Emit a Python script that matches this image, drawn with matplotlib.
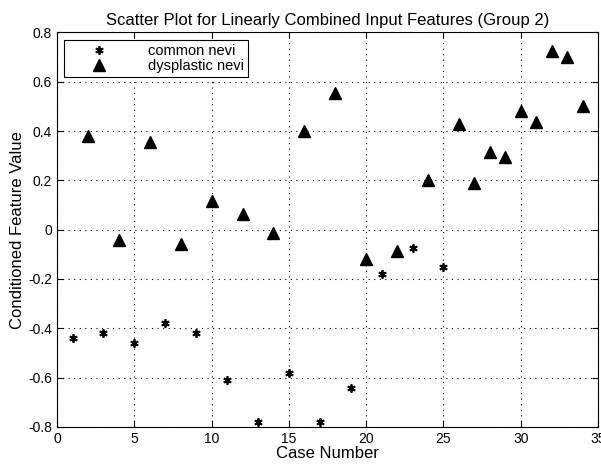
import matplotlib
matplotlib.use('Agg')
import matplotlib.pyplot as plt

plt.rcParams['font.family'] = ['Liberation Sans', 'DejaVu Sans']

# common nevi (asterisks)
common_x = [1, 3, 5, 7, 9, 11, 13, 15, 17, 19, 21, 23, 25]
common_y = [-0.44, -0.42, -0.46, -0.38, -0.42, -0.61, -0.78, -0.58, -0.78,
            -0.64, -0.18, -0.075, -0.15]

# dysplastic nevi (triangles)
dysp_x = [2, 4, 6, 8, 10, 12, 14, 16, 18, 20, 22, 24, 26, 27, 28, 29, 30,
          31, 32, 33, 34]
dysp_y = [0.38, -0.04, 0.355, -0.06, 0.115, 0.065, -0.015, 0.40, 0.555,
          -0.12, -0.085, 0.20, 0.43, 0.19, 0.315, 0.295, 0.48, 0.435, 0.725,
          0.70, 0.50]

fig = plt.figure(figsize=(6.01, 4.67), dpi=100)
ax = fig.add_axes([0.095, 0.0857, 0.9, 0.845])

ax.plot(common_x, common_y, linestyle='none', marker=(6, 2, 0), markersize=6,
        markeredgewidth=1.3, color='black', label='common nevi')
ax.plot(dysp_x, dysp_y, linestyle='none', marker='^', markersize=8,
        color='black', label='dysplastic nevi')

ax.set_xlim(0, 35)
ax.set_ylim(-0.8, 0.8)
ax.set_xticks(range(0, 36, 5))
ax.set_yticks([-0.8, -0.6, -0.4, -0.2, 0, 0.2, 0.4, 0.6, 0.8])
ax.set_yticklabels(['-0.8', '-0.6', '-0.4', '-0.2', '0', '0.2', '0.4', '0.6', '0.8'])
ax.tick_params(direction='in', top=True, right=True, labelsize=10, length=4)
ax.grid(True, color='black', linewidth=0.8, linestyle=(0, (1, 4)))

ax.set_title('Scatter Plot for Linearly Combined Input Features (Group 2)', fontsize=12, pad=5)
ax.set_xlabel('Case Number', fontsize=12, labelpad=0)
ax.set_ylabel('Conditioned Feature Value', fontsize=12, labelpad=2)

leg = ax.legend(loc='upper left', fontsize=10.5, fancybox=False, edgecolor='black',
                framealpha=1, borderpad=0.3, handletextpad=1.2, labelspacing=0.05,
                borderaxespad=0.5, handlelength=4.2)
leg.get_frame().set_linewidth(0.8)

fig.savefig('out.png', dpi=100)
